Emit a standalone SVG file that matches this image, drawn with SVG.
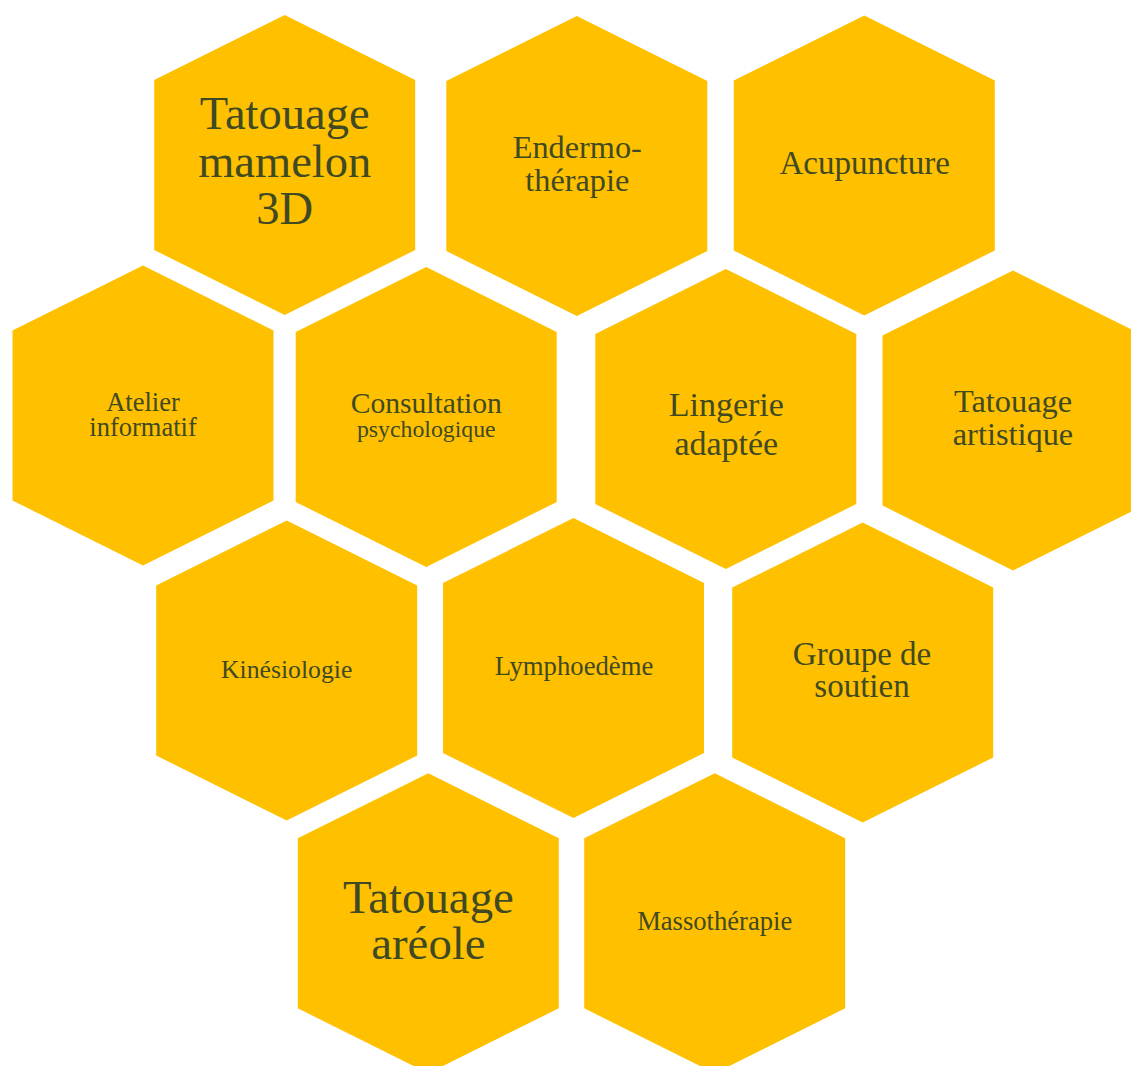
<svg xmlns="http://www.w3.org/2000/svg" xmlns:xlink="http://www.w3.org/1999/xlink" width="1131" height="1066" viewBox="0 0 1131 1066">
<style>
.hex{fill:#FFC000}
text{font-family:"Liberation Serif","Times New Roman",serif;fill:#3F4A23;text-anchor:middle}
</style>
<defs>
<polygon id="hex" points="0,-150 130.5,-85 130.5,85 0,150 -130.5,85 -130.5,-85"/>
</defs>
<rect width="1131" height="1066" fill="#FFFFFF"/>
<g id="connectors"/>
<g id="n-mamelon"><use href="#hex" class="hex" x="284.7" y="165"/>
<text font-size="46.5"><tspan x="284.7" y="129.3">Tatouage</tspan><tspan x="284.7" y="176.7">mamelon</tspan><tspan x="284.7" y="224">3D</tspan></text></g>
<g id="n-endermo"><use href="#hex" class="hex" x="576.8" y="166"/>
<text font-size="32.3"><tspan x="577.3" y="158.3">Endermo-</tspan><tspan x="577.3" y="190.7">thérapie</tspan></text></g>
<g id="n-acupuncture"><use href="#hex" class="hex" x="864.3" y="165.5"/>
<text x="864.7" y="174" font-size="33">Acupuncture</text></g>
<g id="n-atelier"><use href="#hex" class="hex" x="143" y="415.5"/>
<text font-size="26.5"><tspan x="143" y="410.7">Atelier</tspan><tspan x="143" y="436">informatif</tspan></text></g>
<g id="n-consultation"><use href="#hex" class="hex" x="426.2" y="417"/>
<text><tspan x="426.3" y="412.7" font-size="29.6">Consultation</tspan><tspan x="426.3" y="436.7" font-size="23.8">psychologique</tspan></text></g>
<g id="n-lingerie"><use href="#hex" class="hex" x="725.8" y="419"/>
<text font-size="34"><tspan x="726.3" y="416">Lingerie</tspan><tspan x="726.3" y="455">adaptée</tspan></text></g>
<g id="n-artistique"><use href="#hex" class="hex" x="1013" y="420.5"/>
<text font-size="32.4"><tspan x="1013" y="412.3">Tatouage</tspan><tspan x="1013" y="445">artistique</tspan></text></g>
<g id="n-kinesiologie"><use href="#hex" class="hex" x="286.7" y="670.5"/>
<text x="286.7" y="677.7" font-size="25.7">Kinésiologie</text></g>
<g id="n-lymphoedeme"><use href="#hex" class="hex" x="573.5" y="668"/>
<text x="574" y="675" font-size="26.7">Lymphoedème</text></g>
<g id="n-groupe"><use href="#hex" class="hex" x="862.7" y="672.5"/>
<text font-size="33"><tspan x="862" y="665">Groupe de</tspan><tspan x="862" y="696.7">soutien</tspan></text></g>
<g id="n-areole"><use href="#hex" class="hex" x="428.3" y="923.3"/>
<text font-size="46.8"><tspan x="428.4" y="912.7">Tatouage</tspan><tspan x="428.4" y="959">aréole</tspan></text></g>
<g id="n-massotherapie"><use href="#hex" class="hex" x="714.7" y="923.3"/>
<text x="714.7" y="930" font-size="26.6">Massothérapie</text></g>
</svg>
